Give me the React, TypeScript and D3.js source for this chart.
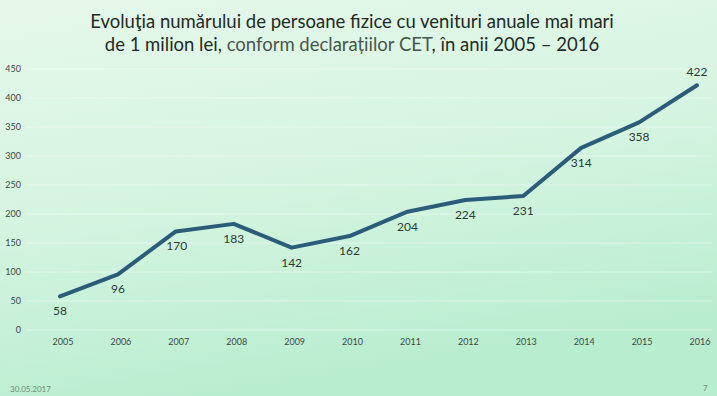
import React from 'react'
import * as d3 from 'd3'

const years = ['2005', '2006', '2007', '2008', '2009', '2010', '2011', '2012', '2013', '2014', '2015', '2016']
const persons = [58, 96, 170, 183, 142, 162, 204, 224, 231, 314, 358, 422]
const yTicks = [0, 50, 100, 150, 200, 250, 300, 350, 400, 450]

export default function App() {
  const width = 717,
    height = 396

  const xScale = d3.scalePoint()
    .domain(years)
    .range([60, 697])

  const yScale = d3.scaleLinear()
    .domain([0, 450])
    .range([330, 69])

  const line = d3.line<number>()
    .x((d, i) => xScale(years[i]) as number)
    .y(d => yScale(d))

  const font = 'Lato, "Open Sans", sans-serif'

  return (
    <svg width={width} height={height} style={{position: 'absolute', left: 0, top: 0}}>
      <defs>
        <linearGradient id="bg" x1="0" y1="0" x2="0.3" y2="1">
          <stop offset="0" stopColor="#e6f8ea" />
          <stop offset="0.55" stopColor="#d4f4e0" />
          <stop offset="1" stopColor="#b9edd0" />
        </linearGradient>
      </defs>
      <rect width={width} height={height} fill="url(#bg)" />

      {/* title */}
      <text x={352} y={28} textAnchor="middle" fontFamily={font} fontSize={18.5} fill="#222a25">
        Evoluţia numărului de persoane fizice cu venituri anuale mai mari
      </text>
      <text x={352} y={51} textAnchor="middle" fontFamily={font} fontSize={18.5} fill="#222a25">
        de 1 milion lei,<tspan fill="#46564c"> conform declarațiilor CET</tspan>, în anii 2005 – 2016
      </text>

      {/* grid + y labels */}
      {yTicks.map(t => (
        <g key={t}>
          <line x1={26} x2={712} y1={yScale(t)} y2={yScale(t)} stroke="#ffffff" strokeOpacity={0.45} strokeWidth={1} />
          <text x={21} y={yScale(t) + 3} textAnchor="end" fontFamily={font} fontSize={9} fill="#3d4a42">{t}</text>
        </g>
      ))}

      {/* x labels */}
      {years.map(y => (
        <text key={y} x={(xScale(y) as number) + 3} y={345} textAnchor="middle" fontFamily={font} fontSize={9} fill="#3d4a42">{y}</text>
      ))}

      <path d={line(persons) || ''} fill="none" stroke="#2b5c7a" strokeWidth={4} strokeLinejoin="round" strokeLinecap="round" />

      {/* data labels */}
      {persons.map((v, i) => {
        const above = i === persons.length - 1
        return (
          <text key={i}
            x={(xScale(years[i]) as number) + (i === 2 ? 1 : 0)}
            y={above ? yScale(v) - 9 : yScale(v) + 19}
            textAnchor="middle" fontFamily={font} fontSize={12} fill="#2c3a32">{v}</text>
        )
      })}

      {/* footer */}
      <text x={10} y={392} fontFamily={font} fontSize={8} fill="#6f8a7a">30.05.2017</text>
      <text x={703} y={391} fontFamily={font} fontSize={8} fill="#6f8a7a">7</text>
    </svg>
  )
}
